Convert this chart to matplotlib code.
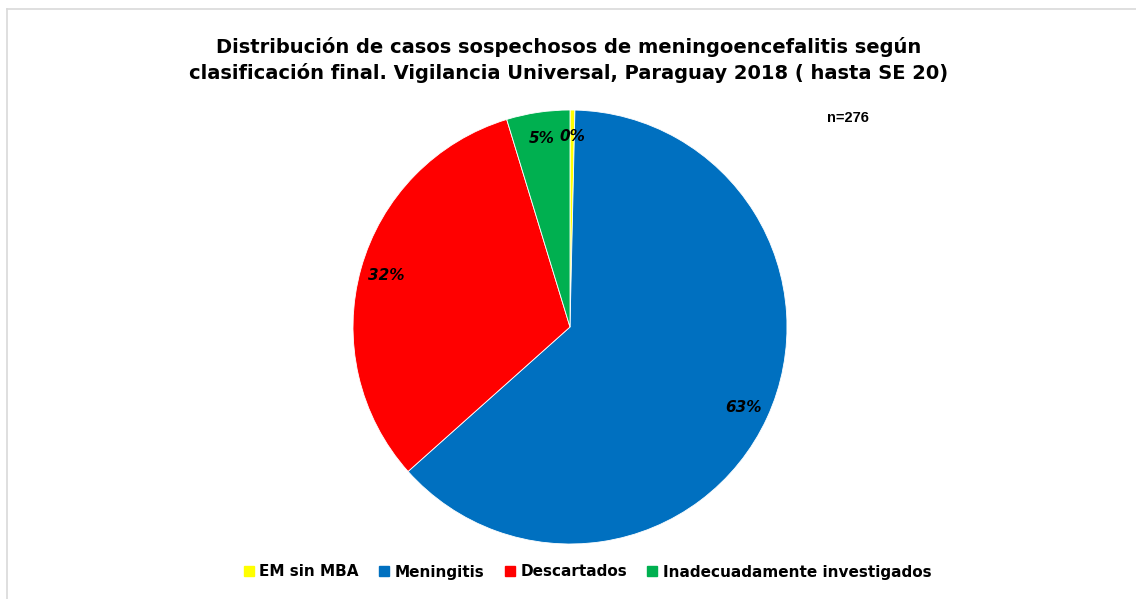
import matplotlib
matplotlib.use("Agg")
import matplotlib.pyplot as plt
from matplotlib.lines import Line2D

categories = ["EM sin MBA", "Meningitis", "Descartados", "Inadecuadamente investigados"]
counts = [1, 174, 88, 13]
colors = ["#FFFF00", "#0070C0", "#FF0000", "#00B050"]
title = "Distribución de casos sospechosos de meningoencefalitis según\nclasificación final. Vigilancia Universal, Paraguay 2018 ( hasta SE 20)"
n_label = "n=276"

W, H = 1136, 599
fig = plt.figure(figsize=(W / 100, H / 100), dpi=100)
fig.patch.set_facecolor("white")

# pie axes: center (570, 327), radius 217 px
cx, cy, r = 570, 327, 217
ax = fig.add_axes([(cx - r) / W, 1 - (cy + r) / H, 2 * r / W, 2 * r / H])
wedges, texts, autotexts = ax.pie(
    counts, colors=colors, startangle=90, counterclock=False,
    autopct=lambda p: f"{p:.0f}%", pctdistance=0.88,
    wedgeprops=dict(linewidth=0.6, edgecolor="white"),
    textprops=dict(fontsize=11, fontweight="bold", fontstyle="italic", color="black"),
)
ax.set_aspect("equal")
ax.set_xlim(-1, 1)
ax.set_ylim(-1, 1)

fig.text(569 / W, 1 - 60 / H, title, ha="center", va="center", fontsize=14,
         fontweight="bold", family="DejaVu Sans", linespacing=1.4)
fig.text(848 / W, 1 - 118 / H, n_label, ha="center", va="center", fontsize=10.5,
         fontweight="bold", family="Liberation Sans")

handles = [Line2D([0], [0], marker="s", linestyle="none", markersize=7,
                  markerfacecolor=c, markeredgecolor=c) for c in colors]
fig.legend(handles, categories, loc="center", bbox_to_anchor=(587 / W, 1 - 572 / H),
           ncol=4, frameon=False, prop=dict(family="DejaVu Sans", weight="bold", size=11),
           handletextpad=0.3, columnspacing=1.25, handlelength=0.8)

# light border lines (top and left)
fig.add_artist(Line2D([7 / W, 1], [1 - 9 / H, 1 - 9 / H], color="#d9d9d9", linewidth=1.2))
fig.add_artist(Line2D([7 / W, 7 / W], [0, 1 - 9 / H], color="#d9d9d9", linewidth=1.2))

fig.savefig("out.png", dpi=100, facecolor="white")
